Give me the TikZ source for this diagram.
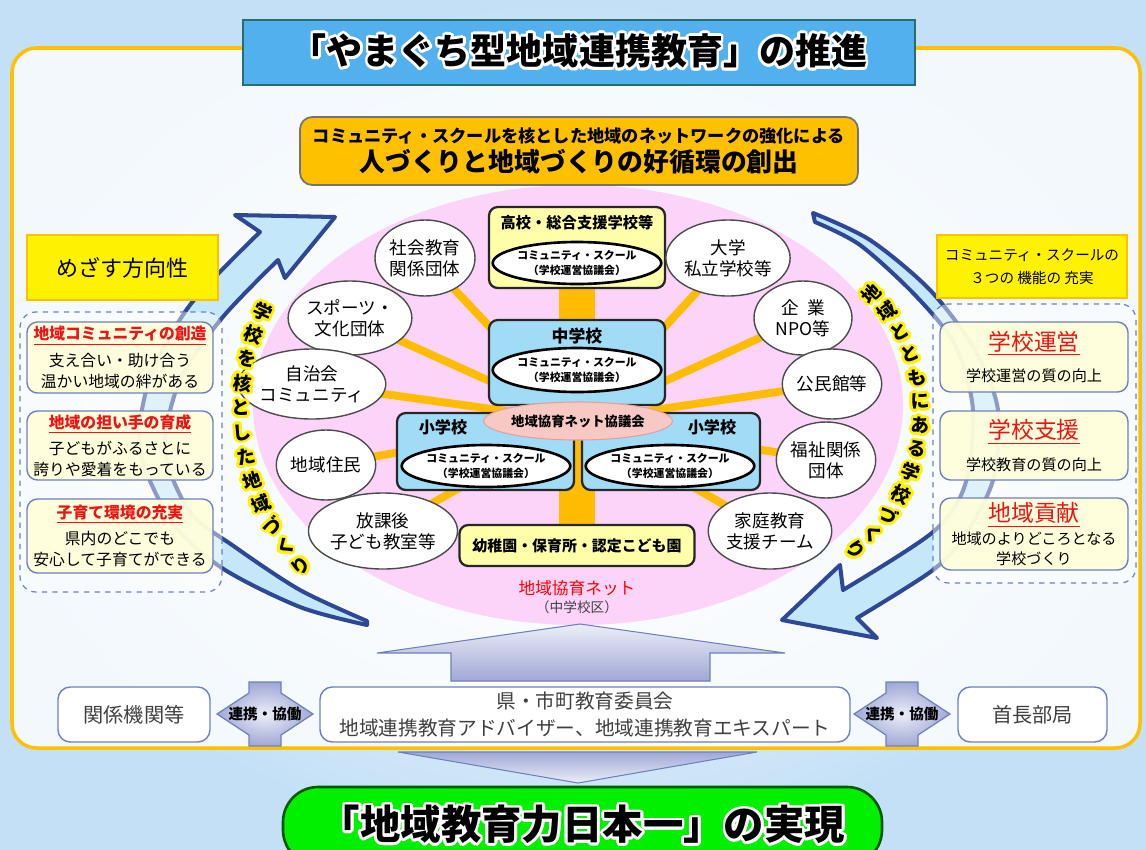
\documentclass[tikz,border=0pt]{standalone}
\usepackage{fontspec}
\setmainfont{Noto Sans CJK JP}
\usepackage{contour}
\contourlength{1.6pt}
\usepackage{tikz}
\usetikzlibrary{shapes.geometric}
\pgfdeclarelayer{bglayer}
\pgfdeclarelayer{edgelayer}
\pgfdeclarelayer{nodelayer}
\pgfsetlayers{bglayer,edgelayer,nodelayer,main}
\definecolor{bgblue}{RGB}{196,224,246}
\definecolor{frameorange}{RGB}{255,192,0}
\definecolor{titleblue}{RGB}{82,176,238}
\definecolor{titleline}{RGB}{40,110,110}
\definecolor{netpink}{RGB}{252,212,250}
\definecolor{arrowfill}{RGB}{196,232,250}
\definecolor{arrowline}{RGB}{46,72,150}
\definecolor{spokeorange}{RGB}{255,188,0}
\definecolor{paleyellow}{RGB}{255,255,218}
\definecolor{boxline}{RGB}{110,128,188}
\definecolor{schoolblue}{RGB}{160,220,246}
\definecolor{schoolyellow}{RGB}{255,255,170}
\definecolor{hubpink}{RGB}{248,200,196}
\definecolor{hubline}{RGB}{225,160,160}
\definecolor{lavender}{RGB}{160,168,214}
\definecolor{palelav}{RGB}{236,238,248}
\definecolor{realgreen}{RGB}{0,240,0}
\definecolor{textgray}{RGB}{64,64,64}
\definecolor{deepred}{RGB}{235,20,20}
\newcommand\pxu{0.02cm}
\newcommand\fs[2]{\fontsize{#1}{#2}\selectfont}
\tikzstyle{none}=[inner sep=0pt]
\tikzset{wh/.style 2 args={minimum width=#1*\pxu, minimum height=#2*\pxu}}
\tikzstyle{headline}=[rectangle, fill=titleblue, draw=titleline, line width=1pt, inner sep=0pt, font=\fs{20.5}{24}\bfseries]
\tikzstyle{subline}=[rectangle, rounded corners=7pt, fill=frameorange, draw=black!55, line width=1pt, align=center, inner sep=0pt, font=\bfseries]
\tikzstyle{headbox}=[rectangle, draw=frameorange, line width=0.8pt, fill=yellow, align=center, inner sep=0pt]
\tikzstyle{dashbox}=[rectangle, rounded corners=9pt, draw=boxline, dashed, line width=0.7pt, fill=white, fill opacity=0.45, inner sep=0pt]
\tikzstyle{colbox}=[rectangle, rounded corners=6pt, draw=boxline, line width=0.8pt, fill=paleyellow, fill opacity=0.92, text opacity=1, align=center, inner sep=0pt, font=\fs{9}{12}]
\tikzstyle{circ}=[ellipse, draw=black!70, line width=0.8pt, fill=white, align=center, inner sep=0pt, font=\fs{10}{12}]
\tikzstyle{school}=[rectangle, rounded corners=5pt, draw=black!85, line width=1.3pt, inner sep=0pt, align=center]
\tikzstyle{cs}=[ellipse, draw=black, line width=1.5pt, fill=white, align=center, inner sep=0pt, font=\fs{6.2}{8}\bfseries]
\tikzstyle{hub}=[ellipse, draw=hubline, line width=0.6pt, fill=hubpink, inner sep=0pt, font=\fs{7.6}{9}\bfseries]
\tikzstyle{spoke}=[draw=spokeorange, line width=4.5pt]
\tikzstyle{bar}=[draw=spokeorange, line width=21pt]
\tikzstyle{bigarrow}=[fill=arrowfill, draw=arrowline, line width=2.3pt, line join=round]
\tikzstyle{curv}=[inner sep=0pt, font=\fs{10.6}{11}\bfseries]
\tikzstyle{plain}=[rectangle, rounded corners=7pt, draw=boxline, line width=0.8pt, fill=white, align=center, inner sep=0pt, text=textgray]
\tikzstyle{twoway}=[inner color=palelav, outer color=lavender, draw=boxline, line width=0.7pt]
\tikzstyle{goal}=[rectangle, rounded corners=20pt, fill=realgreen, draw=green!35!black, line width=1.5pt, inner sep=0pt, font=\fs{23}{26}\bfseries]

\begin{document}
\begin{tikzpicture}[x=\pxu, y=-\pxu]
	\useasboundingbox (0,0) rectangle (1146,849);
	\begin{pgfonlayer}{bglayer}
		\shade [inner color=white, outer color=bgblue] (0,0) rectangle (1146,849);
		\draw [frameorange, line width=2pt, fill=white, fill opacity=0.8, rounded corners=14pt] (12,48) rectangle (1140,748);
		\fill [netpink] (578,405) ellipse [x radius=325, y radius=220];
		\filldraw [style=bigarrow] plot [smooth] coordinates {(367,625) (300,607) (222,568) (172,522) (140,450) (150,378) (190,305) (260,232)} -- (235,215) -- (335,217) -- (285,278) -- plot [smooth] coordinates {(278,260) (222,318) (180,380) (165,450) (190,512) (235,547) (300,590) (367,621)} -- cycle;
		\filldraw [style=bigarrow] plot [smooth] coordinates {(813,213) (870,240) (930,290) (975,350) (998,410) (993,480) (965,535) (933,570) (857,618)} -- (877,638) -- (782,620) -- (840,565) -- plot [smooth] coordinates {(843,590) (933,532) (965,485) (973,410) (955,345) (915,295) (860,245) (815,222)} -- cycle;
		\shadedraw [top color=palelav, bottom color=lavender, draw=boxline, line width=0.6pt] (580,624) -- (785,653) -- (710,653) -- (710,681) -- (451,681) -- (451,653) -- (377,653) -- cycle;
		\shadedraw [top color=lavender, bottom color=palelav, draw=boxline, line width=0.6pt] (398,752) -- (757,752) -- (578,783) -- cycle;
		\shadedraw [style=twoway] (217,714) -- (249,693) -- (249,682) -- (281,682) -- (281,693) -- (313,714) -- (281,735) -- (281,746) -- (249,746) -- (249,735) -- cycle;
		\shadedraw [style=twoway, shift={(637,0)}] (217,714) -- (249,693) -- (249,682) -- (281,682) -- (281,693) -- (313,714) -- (281,735) -- (281,746) -- (249,746) -- (249,735) -- cycle;
	\end{pgfonlayer}
	\begin{pgfonlayer}{nodelayer}
		\node [style=headline, wh={672}{65}] (0) at (579,52.5) {\contour{white}{「やまぐち型地域連携教育」の推進}};
		\node [style=subline, wh={558}{68}] (1) at (579,151) {{\fs{9.8}{12}コミュニティ・スクールを核とした地域のネットワークの強化による}\\[2pt]{\fs{14.7}{17}人づくりと地域づくりの好循環の創出}};
		\node [style=headbox, wh={191}{65}, font=\fs{12.5}{14}] (2) at (122.5,267.5) {めざす方向性};
		\node [style=dashbox, wh={202}{280}] (3) at (121,452) {};
		\node [style=colbox, wh={186}{71}] (4) at (120,357.5) {{\bfseries\color{deepred}\underline{地域コミュニティの創造}}\\[3pt]支え合い・助け合う\\温かい地域の絆がある};
		\node [style=colbox, wh={186}{69}] (5) at (120,445.5) {{\bfseries\color{deepred}\underline{地域の担い手の育成}}\\[3pt]子どもがふるさとに\\誇りや愛着をもっている};
		\node [style=colbox, wh={186}{74}] (6) at (120,536) {{\bfseries\color{deepred}\underline{子育て環境の充実}}\\[3pt]県内のどこでも\\安心して子育てができる};
		\node [style=headbox, wh={190}{63}, font=\fs{8.3}{13}] (7) at (1032,266.5) {コミュニティ・スクールの\\３つの 機能の 充実};
		\node [style=dashbox, wh={203}{279}] (8) at (1034.5,443.5) {};
		\node [style=colbox, wh={188}{70}, font=\fs{8.6}{11}] (9) at (1034,357) {{\fs{13}{15}\color{deepred}\underline{学校運営}}\\[7pt]学校運営の質の向上};
		\node [style=colbox, wh={188}{69}, font=\fs{8.6}{11}] (10) at (1034,445.5) {{\fs{13}{15}\color{deepred}\underline{学校支援}}\\[7pt]学校教育の質の向上};
		\node [style=colbox, wh={188}{72}, font=\fs{8.6}{11}] (11) at (1034,534) {{\fs{13}{15}\color{deepred}\underline{地域貢献}}\\[2pt]地域のよりどころとなる\\学校づくり};
		\node [style=school, fill=schoolyellow, wh={176}{81}] (12) at (577,247.5) {};
		\node [style=none, font=\fs{8.7}{10}\bfseries] (13) at (577,223) {高校・総合支援学校等};
		\node [style=cs, wh={160}{42}] (14) at (577,263) {コミュニティ・スクール\\（学校運営協議会）};
		\node [style=school, fill=schoolblue, wh={176}{85}] (15) at (577,362.5) {};
		\node [style=none, font=\fs{9.6}{11}\bfseries] (16) at (577,336) {中学校};
		\node [style=cs, wh={160}{44}] (17) at (577,370) {コミュニティ・スクール\\（学校運営協議会）};
		\node [style=school, fill=schoolblue, wh={177}{77}] (18) at (485.5,451.5) {};
		\node [style=none, font=\fs{9.2}{11}\bfseries] (19) at (443,427) {小学校};
		\node [style=cs, wh={160}{42}] (20) at (486,466) {コミュニティ・スクール\\（学校運営協議会）};
		\node [style=school, fill=schoolblue, wh={178}{77}] (21) at (671,451.5) {};
		\node [style=none, font=\fs{9.2}{11}\bfseries] (22) at (712,427) {小学校};
		\node [style=cs, wh={160}{42}] (23) at (670,466) {コミュニティ・スクール\\（学校運営協議会）};
		\node [style=hub, wh={164}{38}] (24) at (578,421) {地域協育ネット協議会};
		\node [style=school, fill=schoolyellow, wh={235}{41}, font=\fs{8.5}{10}\bfseries] (25) at (577,545.5) {幼稚園・保育所・認定こども園};
		\node [style=circ, wh={100}{76}] (26) at (425,258) {社会教育\\関係団体};
		\node [style=circ, wh={96}{74}] (27) at (350,318) {スポーツ・\\文化団体};
		\node [style=circ, wh={90}{70}] (28) at (312,384) {自治会\\コミュニティ};
		\node [style=circ, wh={96}{70}] (29) at (326,465) {地域住民};
		\node [style=circ, wh={96}{76}] (30) at (383,531) {放課後\\子ども教室等};
		\node [style=circ, wh={104}{76}] (31) at (728,258) {大学\\私立学校等};
		\node [style=circ, wh={98}{74}] (32) at (803,318) {企\hspace{0.5em}業\\NPO等};
		\node [style=circ, wh={98}{70}] (33) at (832,384) {公民館等};
		\node [style=circ, wh={98}{76}] (34) at (826,460) {福祉関係\\団体};
		\node [style=circ, wh={102}{76}] (35) at (770,531) {家庭教育\\支援チーム};
		\node [style=none, text=red, font=\fs{9.5}{11}] (36) at (577,588) {地域協育ネット};
		\node [style=none, text=textgray, font=\fs{7.8}{9}] (37) at (577,607) {（中学校区）};
		\node [style=plain, wh={152}{55}, font=\fs{11.5}{13}] (38) at (134,714.5) {関係機関等};
		\node [style=none, font=\fs{8.3}{10}\bfseries] (39) at (265,714) {連携・協働};
		\node [style=plain, wh={530}{55}, font=\fs{11.2}{15.3}] (40) at (585,714.5) {県・市町教育委員会\\地域連携教育アドバイザー、地域連携教育エキスパート};
		\node [style=none, font=\fs{8.3}{10}\bfseries] (41) at (902,714) {連携・協働};
		\node [style=plain, wh={149}{55}, font=\fs{11.5}{13}] (42) at (1032.5,714.5) {首長部局};
		\node [style=goal, wh={599}{78}] (43) at (582.5,826) {\contour{white}{「地域教育力日本一」の実現}};
	\end{pgfonlayer}
	\begin{pgfonlayer}{edgelayer}
		\draw [style=bar] (12.center) to (25.center);
		\foreach \n in {26,...,35}
			\draw [style=spoke] (24.center) to (\n.center);
	\end{pgfonlayer}
	\foreach \ch [count=\i] in {学,校,を,核,と,し,た,地,域,づ,く,り} {
		\pgfmathsetmacro{\ang}{204.6-6.1*(\i-1)}
		\pgfmathsetmacro{\rot}{180-\ang}
		\node [style=curv, rotate=\rot] (l\i) at ({473+232*cos(\ang)},{410+232*sin(\ang)}) {\contour{yellow}{\ch}};
	}
	\foreach \ch [count=\i] in {地,域,と,と,も,に,あ,る,学,校,づ,く,り} {
		\pgfmathsetmacro{\ang}{-44+8*(\i-1)}
		\pgfmathsetmacro{\rot}{0-(\ang)}
		\node [style=curv, rotate=\rot] (r\i) at ({747.8+173*cos(\ang)},{414.6+173*sin(\ang)}) {\contour{yellow}{\ch}};
	}
\end{tikzpicture}
\end{document}
